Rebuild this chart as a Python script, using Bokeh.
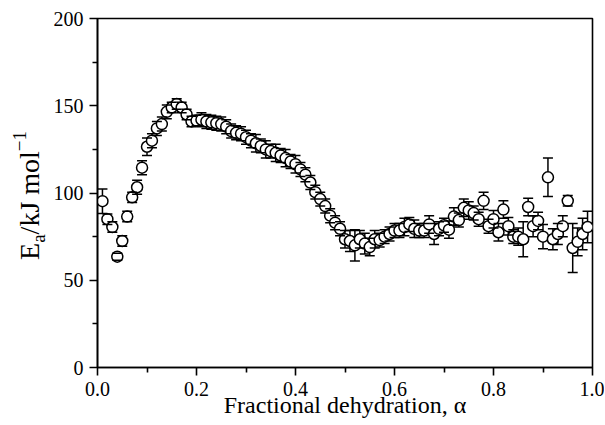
import numpy as np
from bokeh.plotting import figure
from bokeh.layouts import row
from bokeh.models import Range1d, FixedTicker, NumeralTickFormatter
from bokeh.core.properties import value
from bokeh.embed import file_html
from bokeh.resources import INLINE

# ---------------- data ----------------
alpha = [round(0.01 * i, 2) for i in range(1, 100)]

ea = [95.3, 85.0, 80.5, 63.5, 72.5, 86.5, 97.5, 103.3, 114.5, 126.5,
      130.0, 137.0, 139.5, 146.5, 149.0, 151.0, 149.0, 145.0, 141.0, 141.5,
      142.0, 141.0, 140.5, 140.0, 139.5, 138.0, 135.5, 134.5, 134.0, 132.0,
      130.0, 128.5, 127.0, 125.0, 124.0, 123.0, 121.5, 120.0, 118.0, 116.5,
      113.5, 110.5, 106.0, 100.5, 96.5, 92.5, 87.0, 83.0, 79.5, 73.5,
      72.5, 70.0, 73.5, 71.0, 69.0, 73.5, 73.0, 75.0, 76.5, 78.5,
      78.5, 80.5, 82.0, 79.5, 78.5, 78.5, 82.0, 76.5, 79.5, 81.5,
      79.0, 86.5, 84.5, 91.5, 90.0, 88.5, 85.0, 95.5, 81.0, 85.0,
      77.5, 90.5, 81.0, 75.0, 75.0, 73.5, 92.0, 81.0, 84.0, 75.0,
      109.0, 73.5, 76.5, 81.0, 95.5, 68.5, 72.0, 76.5, 80.5]

err = [7, 3, 3, 2, 3, 3, 3, 4, 4, 5,
       4, 4, 4, 4, 3, 3, 3, 3, 3, 3,
       4, 4, 4, 4, 4, 4, 4, 4, 4, 4,
       4, 5, 4, 5, 4, 5, 4, 5, 4, 5,
       4, 4, 4, 4, 4, 4, 4, 4, 4, 5,
       6, 9, 5, 6, 5, 5, 4, 4, 4, 4,
       4, 5, 4, 5, 4, 4, 5, 6, 4, 4,
       5, 5, 4, 5, 5, 4, 4, 5, 4, 5,
       5, 5, 5, 4, 5, 10, 5, 6, 5, 7,
       11, 6, 6, 6, 3, 14, 8, 9, 9]

x_ticks = [0.0, 0.2, 0.4, 0.6, 0.8, 1.0]
x_minor = [0.1, 0.3, 0.5, 0.7, 0.9]
y_ticks = [0, 50, 100, 150, 200]
y_minor = [25, 75, 125, 175]

x_label = "Fractional dehydration, \u03b1"
y_label_parts = ["E", "a", "/kJ mol", "\u22121"]

# ---------------- layout constants ----------------
FRAME_W, FRAME_H = 495, 349
TOP, BOTTOM, RIGHT = 18, 57, 12
LABEL_W = 50
LEFT = 97 - LABEL_W
X0, X1, Y0, Y1 = 0.0, 1.0, 0.0, 200.0
PX_X = (X1 - X0) / FRAME_W
PX_Y = (Y1 - Y0) / FRAME_H
FONT = "Liberation Serif"
MARKER = 11
CAP = 10

p = figure(frame_width=FRAME_W, frame_height=FRAME_H,
           x_range=Range1d(X0, X1), y_range=Range1d(Y0, Y1),
           output_backend="svg", toolbar_location=None,
           min_border_left=LEFT, min_border_right=RIGHT,
           min_border_top=TOP, min_border_bottom=BOTTOM)

p.background_fill_color = "white"
p.border_fill_color = "white"
p.outline_line_color = "black"
p.outline_line_width = 1.6
p.xgrid.visible = False
p.ygrid.visible = False

for ax in (p.xaxis[0], p.yaxis[0]):
    ax.axis_line_color = "black"
    ax.axis_line_width = 1.6
    ax.major_tick_line_color = "black"
    ax.major_tick_line_width = 1.6
    ax.minor_tick_line_color = "black"
    ax.minor_tick_line_width = 1.6
    ax.major_tick_in = 0
    ax.major_tick_out = 8
    ax.minor_tick_in = 0
    ax.minor_tick_out = 5
    ax.major_label_text_font = FONT
    ax.major_label_text_font_size = "20px"
    ax.major_label_text_color = "black"

p.xaxis.ticker = FixedTicker(ticks=x_ticks, minor_ticks=x_minor)
p.yaxis.ticker = FixedTicker(ticks=y_ticks, minor_ticks=y_minor)
p.xaxis.formatter = NumeralTickFormatter(format="0.0")
p.xaxis.major_label_standoff = 6
p.yaxis.major_label_standoff = 6

p.xaxis.axis_label = x_label
p.xaxis.axis_label_text_font = FONT
p.xaxis.axis_label_text_font_size = "24px"
p.xaxis.axis_label_text_font_style = "normal"
p.xaxis.axis_label_text_color = "black"
p.xaxis.axis_label_standoff = -7

# ---------------- error bars & markers ----------------
a = np.array(alpha)
e = np.array(ea)
s = np.array(err, dtype=float)
r = (MARKER / 2) * PX_Y
mask = s > r
p.segment(x0=a[mask], y0=(e + r)[mask], x1=a[mask], y1=(e + s)[mask],
          line_color="black", line_width=1.5)
p.segment(x0=a[mask], y0=(e - r)[mask], x1=a[mask], y1=(e - s)[mask],
          line_color="black", line_width=1.5)
p.scatter(a, e, marker="circle", size=MARKER, fill_color="white",
          line_color="black", line_width=1.5)
hw = (CAP / 2) * PX_X
p.segment(x0=a - hw, y0=e + s, x1=a + hw, y1=e + s,
          line_color="black", line_width=1.5)
p.segment(x0=a - hw, y0=e - s, x1=a + hw, y1=e - s,
          line_color="black", line_width=1.5)

# ---------------- y axis label panel (E_a/kJ mol^-1) ----------------
lab = figure(frame_width=LABEL_W, frame_height=FRAME_H,
             x_range=Range1d(0, LABEL_W), y_range=Range1d(Y0, Y1),
             x_axis_location=None, y_axis_location=None,
             output_backend="svg", toolbar_location=None,
             min_border_left=0, min_border_right=0,
             min_border_top=TOP, min_border_bottom=BOTTOM)
lab.outline_line_color = None
lab.xgrid.visible = False
lab.ygrid.visible = False
lab.background_fill_color = "white"
lab.border_fill_color = "white"

MAIN_FS, SMALL_FS = 28, 19
BASE_X = 39
LABEL_CENTER_Y = 98.6
widths_em = [0.611, 0.444, 2.973, 1.064]
sizes = [MAIN_FS, SMALL_FS, MAIN_FS, SMALL_FS]
dxs = [0, 5, 0, -14]
total_len = sum(w * f for w, f in zip(widths_em, sizes)) * PX_Y
yy = LABEL_CENTER_Y - total_len / 2
for txt, fs, dx, w_em in zip(y_label_parts, sizes, dxs, widths_em):
    seg_len = w_em * fs * PX_Y
    lab.text(x=[BASE_X + dx - 0.34 * fs], y=[yy + seg_len / 2], text=[txt],
             angle=np.pi / 2,
             text_font=value(FONT), text_font_size=value(f"{fs}px"),
             text_color="black", text_align="center",
             text_baseline="middle")
    yy += seg_len

layout = row(lab, p)
html = file_html(layout, INLINE)
open("out.html", "w").write(html)
